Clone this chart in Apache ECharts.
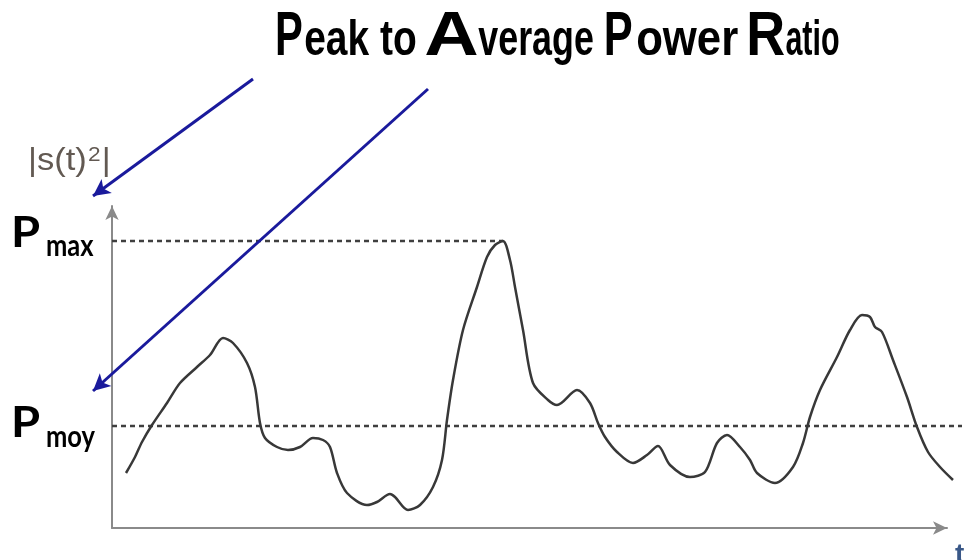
<!DOCTYPE html>
<html><head><meta charset="utf-8">
<script src="https://cdn.jsdelivr.net/npm/echarts@6/dist/echarts.min.js"></script>
<style>html,body{margin:0;padding:0;background:#fff}#c{width:965px;height:560px}</style>
</head><body><div id="c"></div><script>
// time samples (arbitrary units) and instantaneous power |s(t)^2| (arbitrary units)
const timeValues = [14,23,30,40,55,68,85,98,111,121,135,143,148,153,165,176,188,201,211,218,225,235,255,265,278,283,296,308,321,330,335,341,351,365,375,383,391,398,403,411,421,436,445,465,478,486,493,505,521,535,546,558,578,593,605,615,628,638,645,663,681,691,698,708,725,738,750,758,763,770,781,795,805,816,828,841];
const powerValues = [55,71,86,103,125,145,161,173,190,185,165,141,105,90,81,78,81,90,88,81,55,35,23,26,34,31,18,23,41,68,108,148,198,241,271,283,287,268,241,198,145,128,123,138,125,105,91,76,65,73,82,63,51,56,85,93,81,68,55,45,61,85,111,138,171,198,213,211,201,196,168,131,101,76,61,48];
const levelNames = ['max', 'moy'];
const levelValues = [287, 102];          // Pmax, Pmoy
const levelEnds = [391, 850];            // time where each dashed level line stops
const axisNames = ['|s(t)', '2', '|', 't'];
const titleParts = ['P', 'eak to', 'A', 'verage', 'P', 'ower', 'R', 'atio'];

// ---- layout (not data) ----
const titleInk = [[277,302],[305,413],[428,477],[479,590],[606,632],[637,735],[749,784],[786,838]];
const titleBaseline = 59;
const bigFont = 'bold 63px "Liberation Sans"';
const smallFont = 'bold 50px "Liberation Sans"';
const mctx = document.createElement('canvas').getContext('2d');
function measure(t, f) { mctx.font = f; return mctx.measureText(t).width; }

const graphics = [];
titleParts.forEach(function (txt, i) {
  const big = txt.length === 1;
  const f = big ? bigFont : smallFont;
  const fs = big ? 63 : 50;
  const target = titleInk[i][1] - titleInk[i][0];
  const s = target / (measure(txt, f) * (big ? 0.9 : 0.96));
  graphics.push({
    type: 'text', x: titleInk[i][0] - (big ? 0.05 : 0.02) * fs * s, y: titleBaseline - 0.3465 * fs,
    scaleX: s, silent: true,
    style: { text: txt, font: f, fill: '#000', verticalAlign: 'middle', align: 'left' }
  });
});

// left level labels P_max / P_moy
const labelY = [[250, 258], [440, 449]];
levelNames.forEach(function (name, i) {
  graphics.push({
    type: 'text', x: 11, y: labelY[i][0] - 0.387 * 42, scaleX: 1.12, silent: true,
    style: { text: 'P', font: 'bold 42px Lato', fill: '#000', verticalAlign: 'middle' }
  });
  graphics.push({
    type: 'text', x: 46, y: labelY[i][1] - 0.387 * 30, scaleX: 0.85, silent: true,
    style: { text: name, font: 'bold 30px Lato', fill: '#000', verticalAlign: 'middle' }
  });
});
graphics.push({
  type: 'text', x: 28, y: 172 - 0.3465 * 32, scaleX: 1.08, silent: true,
  style: {
    text: '{a|' + axisNames[0] + '}{s|' + axisNames[1] + '}{a|' + axisNames[2] + '}',
    verticalAlign: 'middle',
    rich: {
      a: { font: '32px "Liberation Sans"', fill: '#625952' },
      s: { font: '21px "Liberation Sans"', fill: '#625952', verticalAlign: 'top', padding: [0, 1, 12, 1] }
    }
  }
});
graphics.push({
  type: 'text', x: 955, y: 541, silent: true,
  style: { text: axisNames[3], font: 'bold 28px "Liberation Sans"', fill: '#3a5888', verticalAlign: 'top' }
});

const curve = timeValues.map(function (t, i) { return [t, powerValues[i]]; });
const levelSeries = levelValues.map(function (v, i) {
  return {
    type: 'line', data: [[0, v], [levelEnds[i], v]], clip: false, silent: true, showSymbol: false, z: 1,
    lineStyle: { color: '#3f3f3f', width: 2.5, type: [5, 4] }
  };
});

const hiddenAxis = { show: true, axisLine: { show: false }, axisTick: { show: false }, axisLabel: { show: false }, splitLine: { show: false } };
const arrowLine = { show: true, lineStyle: { color: '#8a8a8a', width: 2 }, symbol: ['none', 'arrow'], symbolSize: [10, 14] };

const chart = echarts.init(document.getElementById('c'), null, { renderer: 'canvas' });
chart.setOption({
  animation: false,
  backgroundColor: '#fff',
  grid: [
    { left: 112, right: 3, top: 206, bottom: 32 },   // data area (dashed line reaches past the arrow)
    { left: 112, right: 18, top: 206, bottom: 32 }   // axes with arrows
  ],
  xAxis: [
    Object.assign({ type: 'value', min: 0, max: 850, gridIndex: 0 }, hiddenAxis),
    { type: 'value', min: 0, max: 835, gridIndex: 1, axisLine: arrowLine,
      axisTick: { show: false }, axisLabel: { show: false }, splitLine: { show: false } }
  ],
  yAxis: [
    Object.assign({ type: 'value', min: 0, max: 322, gridIndex: 0 }, hiddenAxis),
    { type: 'value', min: 0, max: 322, gridIndex: 1, axisLine: arrowLine,
      axisTick: { show: false }, axisLabel: { show: false }, splitLine: { show: false } }
  ],
  series: levelSeries.concat([{
    type: 'line', data: curve, smooth: 0.3, showSymbol: false, clip: false, silent: true, z: 3,
    lineStyle: { color: '#383838', width: 2.5 }
  }, {
    type: 'line', data: [], clip: false, silent: true, z: 4,
    markLine: {
      silent: true, symbol: ['none', 'arrow'], symbolSize: [13, 17], label: { show: false },
      lineStyle: { color: '#1a1a9c', width: 3, type: 'solid' },
      data: [[{ x: 253, y: 79 }, { x: 93, y: 196 }], [{ x: 428, y: 89 }, { x: 93, y: 391 }]]
    }
  }]),
  graphic: graphics
});
</script></body></html>
